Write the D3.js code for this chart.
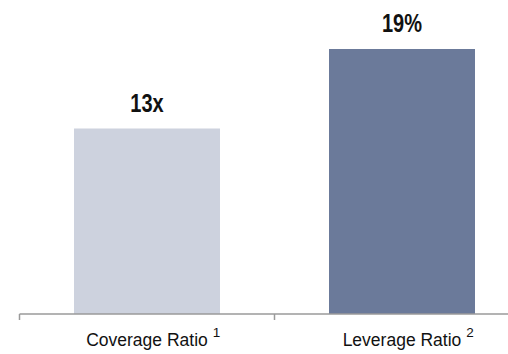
<!DOCTYPE html>
<html>
<head>
<meta charset="utf-8">
<script src="https://cdn.jsdelivr.net/npm/d3@7"></script>
<style>
  html, body { margin: 0; padding: 0; background: #fff; }
  svg { display: block; }
</style>
</head>
<body>
<svg id="chart" width="508" height="354"></svg>
<script>
const categories = ["Coverage Ratio", "Leverage Ratio"];
const footnotes = ["1", "2"];
const values = [13.3, 19];
const valueLabels = ["13x", "19%"];
const barColors = ["#CDD2DE", "#6B7A9A"];

const svg = d3.select("#chart");
const W = 508, H = 354;
const x0 = 19.5, step = 255, baseY = 314, topY = 49;

const x = d3.scaleBand()
  .domain(categories)
  .range([x0, x0 + step * categories.length])
  .paddingInner(0.4275)
  .paddingOuter(0.21375);

const y = d3.scaleLinear()
  .domain([0, d3.max(values)])
  .range([baseY, topY]);

// bars
svg.selectAll("rect.bar")
  .data(categories)
  .enter().append("rect")
  .attr("class", "bar")
  .attr("x", d => x(d))
  .attr("width", x.bandwidth())
  .attr("y", (d, i) => y(values[i]))
  .attr("height", (d, i) => baseY - y(values[i]))
  .attr("fill", (d, i) => barColors[i]);

// value labels (condensed bold)
svg.selectAll("text.val")
  .data(categories)
  .enter().append("text")
  .attr("class", "val")
  .attr("transform", (d, i) => `translate(${x(d) + x.bandwidth() / 2},${y(values[i]) - 17}) scale(0.8,1)`)
  .attr("text-anchor", "middle")
  .attr("font-family", "'Liberation Sans', Arial, sans-serif")
  .attr("font-weight", "bold")
  .attr("font-size", 25)
  .attr("fill", "#111")
  .text((d, i) => valueLabels[i]);

// axis line
const axisColor = "#9a9a9a";
svg.append("line")
  .attr("x1", x0).attr("x2", W + 5)
  .attr("y1", baseY).attr("y2", baseY)
  .attr("stroke", axisColor).attr("stroke-width", 1.5);

// tick marks at band boundaries
const tickXs = d3.range(categories.length + 1).map(i => x0 + i * x.step());
svg.selectAll("line.tick")
  .data(tickXs)
  .enter().append("line")
  .attr("class", "tick")
  .attr("x1", d => d).attr("x2", d => d)
  .attr("y1", baseY).attr("y2", baseY + 6)
  .attr("stroke", axisColor).attr("stroke-width", 1.5);

// category labels with superscripts
categories.forEach((c, i) => {
  const cx = x(c) + x.bandwidth() / 2;
  const t = svg.append("text")
    .attr("x", cx)
    .attr("y", 346)
    .attr("text-anchor", "middle")
    .attr("font-family", "'Liberation Sans', Arial, sans-serif")
    .attr("font-size", 17.5)
    .attr("fill", "#111")
    .text(c);
  const w = t.node().getComputedTextLength();
  svg.append("text")
    .attr("x", cx + w / 2 + 5)
    .attr("y", 337)
    .attr("font-family", "'Liberation Sans', Arial, sans-serif")
    .attr("font-size", 13.5)
    .attr("fill", "#111")
    .text(footnotes[i]);
});
</script>
</body>
</html>
